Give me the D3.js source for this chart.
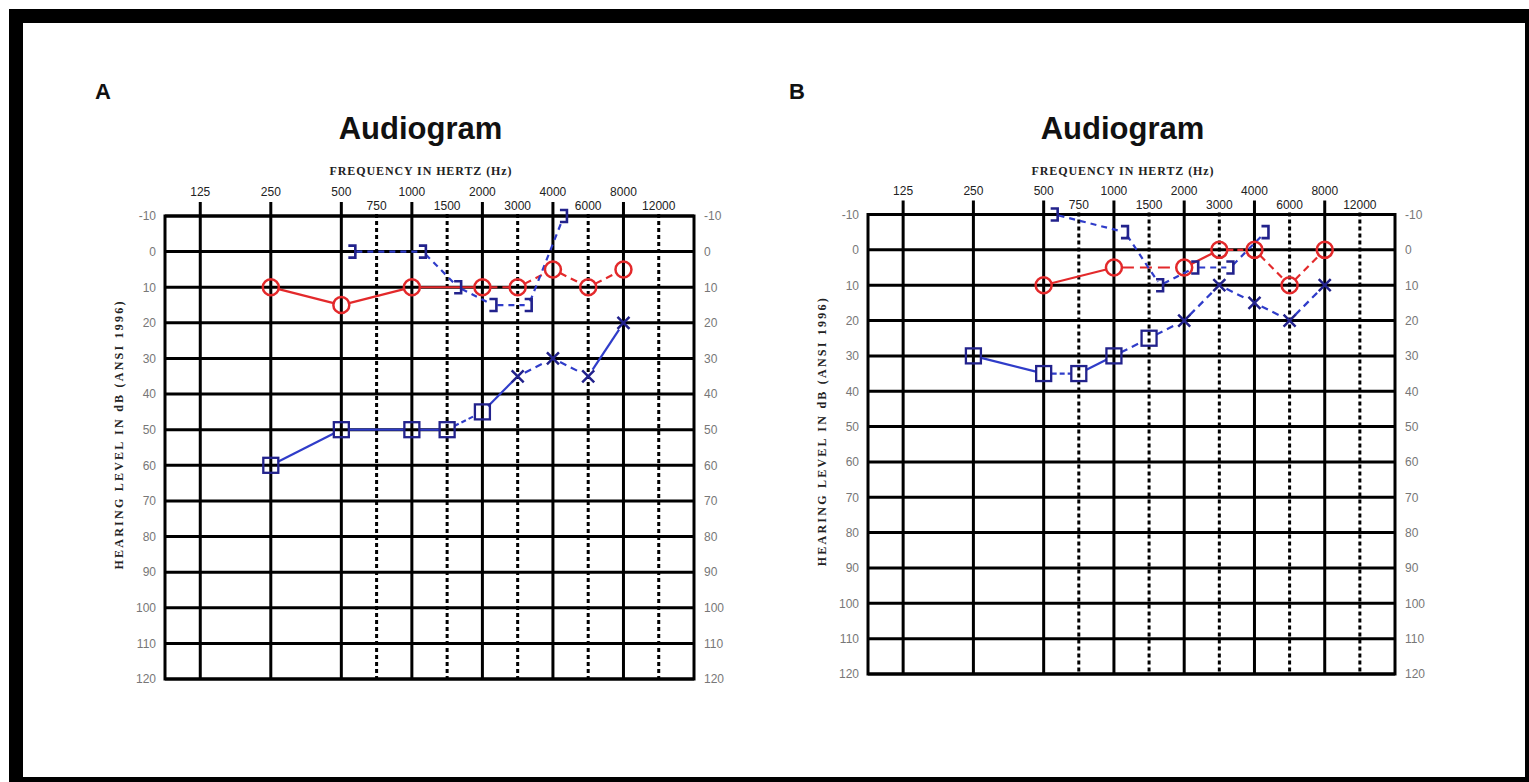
<!DOCTYPE html>
<html>
<head>
<meta charset="utf-8">
<script src="https://cdn.jsdelivr.net/npm/d3@7"></script>
<style>
  body { margin: 0; background: #fff; }
  svg { display: block; }
</style>
</head>
<body>
<svg id="chart" width="1529" height="782"></svg>
<script>
// audiogram grid
var octaveFreqs = [125, 250, 500, 1000, 2000, 4000, 8000];
var halfOctaveFreqs = [750, 1500, 3000, 6000, 12000];
var dbTicks = [-10, 0, 10, 20, 30, 40, 50, 60, 70, 80, 90, 100, 110, 120];

// panel A
var aRightFreq = [250, 500, 1000, 2000, 3000, 4000, 6000, 8000];
var aRightDb = [10, 15, 10, 10, 10, 5, 10, 5];
var aMaskedFreq = [250, 500, 1000, 1500, 2000];
var aMaskedDb = [60, 50, 50, 50, 45];
var aUnmaskedFreq = [3000, 4000, 6000, 8000];
var aUnmaskedDb = [35, 30, 35, 20];
var aBoneFreq = [500, 1000, 1500, 2000, 3000, 4000];
var aBoneDb = [0, 0, 10, 15, 15, -10];

// panel B
var bRightFreq = [500, 1000, 2000, 3000, 4000, 6000, 8000];
var bRightDb = [10, 5, 5, 0, 0, 10, 0];
var bMaskedFreq = [250, 500, 750, 1000, 1500];
var bMaskedDb = [30, 35, 35, 30, 25];
var bUnmaskedFreq = [2000, 3000, 4000, 6000, 8000];
var bUnmaskedDb = [20, 10, 15, 20, 10];
var bBoneFreq = [500, 1000, 1500, 2000, 3000, 4000];
var bBoneDb = [-10, -5, 10, 5, 5, -5];

var RED = "#e3292b";
var BLUE = "#2f3cc9";
var NAVY = "#22228c";

var svg = d3.select("#chart");

// black frame round the picture
svg.append("rect").attr("x", 9).attr("y", 9).attr("width", 1530).attr("height", 780).attr("fill", "#000");
svg.append("rect").attr("x", 23).attr("y", 23).attr("width", 1502).attr("height", 754).attr("fill", "#fff");

// position of a frequency on the audiogram (octaves from 125 Hz, half octaves in between)
function octIndex(f) {
  var o = Math.log2(f / 125);
  if (Math.abs(o - Math.round(o)) < 1e-6) return Math.round(o);
  return Math.log2(f / 375) + 1.5;
}

function zipPts(x, y, freqs, dbs, kind) {
  return freqs.map(function(f, i) {
    return { x: x(octIndex(f)), y: y(dbs[i]), kind: kind };
  });
}

function drawSegments(g, pts, dashes, color, width, r0, r1) {
  for (var i = 0; i < pts.length - 1; i++) {
    var a = pts[i], b = pts[i + 1];
    var dx = b.x - a.x, dy = b.y - a.y;
    var len = Math.sqrt(dx * dx + dy * dy);
    var ux = dx / len, uy = dy / len;
    g.append("line")
      .attr("x1", a.x + ux * r0).attr("y1", a.y + uy * r0)
      .attr("x2", b.x - ux * r1).attr("y2", b.y - uy * r1)
      .attr("stroke", color)
      .attr("stroke-width", width)
      .attr("stroke-dasharray", dashes[i] || null);
  }
}

function drawMarkers(g, pts) {
  pts.forEach(function(p) {
    if (p.kind == "circle") {
      g.append("circle").attr("cx", p.x).attr("cy", p.y).attr("r", 8)
        .attr("fill", "none").attr("stroke", RED).attr("stroke-width", 2.5);
    } else if (p.kind == "square") {
      g.append("rect").attr("x", p.x - 7.5).attr("y", p.y - 7.5)
        .attr("width", 15).attr("height", 15)
        .attr("fill", "none").attr("stroke", NAVY).attr("stroke-width", 2.3);
    } else if (p.kind == "cross") {
      g.append("path")
        .attr("d", "M" + (p.x - 6) + "," + (p.y - 6) + "L" + (p.x + 6) + "," + (p.y + 6) +
                   "M" + (p.x + 6) + "," + (p.y - 6) + "L" + (p.x - 6) + "," + (p.y + 6))
        .attr("stroke", NAVY).attr("stroke-width", 2.5).attr("fill", "none");
    } else if (p.kind == "bracket") {
      g.append("path")
        .attr("d", "M" + (p.x + 7) + "," + (p.y - 6) + "H" + (p.x + 14) + "V" + (p.y + 6) + "H" + (p.x + 7))
        .attr("stroke", NAVY).attr("stroke-width", 2.6).attr("fill", "none");
    }
  });
}

function drawPanel(opt) {
  var x = d3.scaleLinear().domain([-0.5, 7]).range([opt.left, opt.right]);
  var y = d3.scaleLinear().domain([-10, 120]).range([opt.top, opt.bottom]);
  var g = svg.append("g");
  var cx = (opt.left + opt.right) / 2;

  g.append("text").attr("x", opt.letterX).attr("y", 99)
    .attr("font-family", "Liberation Sans, Arial, sans-serif")
    .attr("font-weight", "bold").attr("font-size", 22).attr("fill", "#111")
    .text(opt.letter);

  g.append("text").attr("x", cx - 9).attr("y", 139).attr("text-anchor", "middle")
    .attr("font-family", "Liberation Sans, Arial, sans-serif")
    .attr("font-weight", "bold").attr("font-size", 31).attr("fill", "#111")
    .text("Audiogram");

  g.append("text").attr("x", cx - 9).attr("y", 175).attr("text-anchor", "middle")
    .attr("font-family", "Liberation Serif, Times New Roman, serif")
    .attr("font-weight", "bold").attr("font-size", 12).attr("fill", "#222")
    .attr("textLength", 182)
    .text("FREQUENCY IN HERTZ (Hz)");

  g.append("text")
    .attr("transform", "translate(" + (opt.left - 42) + "," + ((opt.top + opt.bottom) / 2 - 12) + ") rotate(-90)")
    .attr("text-anchor", "middle")
    .attr("font-family", "Liberation Serif, Times New Roman, serif")
    .attr("font-weight", "bold").attr("font-size", 12).attr("fill", "#222")
    .attr("textLength", 268)
    .text("HEARING LEVEL IN dB (ANSI 1996)");

  // frequency labels, two rows
  g.selectAll(".ftop").data(octaveFreqs).enter().append("text")
    .attr("x", function(d) { return x(octIndex(d)); })
    .attr("y", opt.top - 20)
    .attr("text-anchor", "middle")
    .attr("font-family", "Liberation Sans Narrow, Liberation Sans, Arial, sans-serif")
    .attr("font-size", 12).attr("fill", "#222")
    .text(function(d) { return d; });
  g.selectAll(".fmid").data(halfOctaveFreqs).enter().append("text")
    .attr("x", function(d) { return x(octIndex(d)); })
    .attr("y", opt.top - 6)
    .attr("text-anchor", "middle")
    .attr("font-family", "Liberation Sans Narrow, Liberation Sans, Arial, sans-serif")
    .attr("font-size", 12).attr("fill", "#222")
    .text(function(d) { return d; });

  // dB labels on both sides
  var fmt = function(d) { return String(d); };
  var yl = d3.axisLeft(y).tickValues(dbTicks).tickFormat(fmt).tickSize(0).tickPadding(9);
  var yr = d3.axisRight(y).tickValues(dbTicks).tickFormat(fmt).tickSize(0).tickPadding(10);
  [[yl, opt.left], [yr, opt.right]].forEach(function(a) {
    var ax = g.append("g").attr("transform", "translate(" + a[1] + ",0)").call(a[0]);
    ax.select(".domain").remove();
    ax.selectAll("text")
      .attr("font-family", "Liberation Sans Narrow, Liberation Sans, Arial, sans-serif")
      .attr("font-size", 12).attr("fill", "#777");
  });

  // grid
  g.selectAll(".hl").data(dbTicks).enter().append("line")
    .attr("x1", opt.left).attr("x2", opt.right)
    .attr("y1", function(d) { return y(d); }).attr("y2", function(d) { return y(d); })
    .attr("stroke", "#000").attr("stroke-width", 3);
  g.selectAll(".vl").data(octaveFreqs).enter().append("line")
    .attr("x1", function(d) { return x(octIndex(d)); }).attr("x2", function(d) { return x(octIndex(d)); })
    .attr("y1", opt.top - 14).attr("y2", opt.bottom)
    .attr("stroke", "#000").attr("stroke-width", 3);
  g.selectAll(".vd").data(halfOctaveFreqs).enter().append("line")
    .attr("x1", function(d) { return x(octIndex(d)); }).attr("x2", function(d) { return x(octIndex(d)); })
    .attr("y1", opt.top - 2).attr("y2", opt.bottom)
    .attr("stroke", "#000").attr("stroke-width", 3).attr("stroke-dasharray", "4,3");
  g.append("rect")
    .attr("x", opt.left).attr("y", opt.top)
    .attr("width", opt.right - opt.left).attr("height", opt.bottom - opt.top)
    .attr("fill", "none").attr("stroke", "#000").attr("stroke-width", 3);

  // thresholds
  var right = zipPts(x, y, opt.rightFreq, opt.rightDb, "circle");
  var left = zipPts(x, y, opt.maskedFreq, opt.maskedDb, "square")
    .concat(zipPts(x, y, opt.unmaskedFreq, opt.unmaskedDb, "cross"));
  var bone = zipPts(x, y, opt.boneFreq, opt.boneDb, "bracket");

  drawSegments(g, right, opt.rightDash, RED, 2.2, 8, 8);
  drawSegments(g, left, opt.leftDash, BLUE, 2.2, 8, 8);
  var boneLine = bone.map(function(p) { return { x: p.x + 11, y: p.y }; });
  drawSegments(g, boneLine, bone.map(function() { return "6,5"; }), BLUE, 2.2, 4, 4);

  drawMarkers(g, right);
  drawMarkers(g, left);
  drawMarkers(g, bone);
}

drawPanel({
  letter: "A", letterX: 95,
  left: 165, right: 694, top: 216, bottom: 679,
  rightFreq: aRightFreq, rightDb: aRightDb,
  maskedFreq: aMaskedFreq, maskedDb: aMaskedDb,
  unmaskedFreq: aUnmaskedFreq, unmaskedDb: aUnmaskedDb,
  boneFreq: aBoneFreq, boneDb: aBoneDb,
  rightDash: ["", "", "", "7,5", "7,5", "7,5", "7,5"],
  leftDash: ["", "", "", "5,3", "", "7,5", "7,5", ""]
});

drawPanel({
  letter: "B", letterX: 789,
  left: 868, right: 1395, top: 214.5, bottom: 674,
  rightFreq: bRightFreq, rightDb: bRightDb,
  maskedFreq: bMaskedFreq, maskedDb: bMaskedDb,
  unmaskedFreq: bUnmaskedFreq, unmaskedDb: bUnmaskedDb,
  boneFreq: bBoneFreq, boneDb: bBoneDb,
  rightDash: ["", "12,6", "", "6,4", "7,5", "7,5"],
  leftDash: ["", "5,3", "", "7,5", "7,5", "7,5", "7,5", "7,5", "7,5"]
});
</script>
</body>
</html>
